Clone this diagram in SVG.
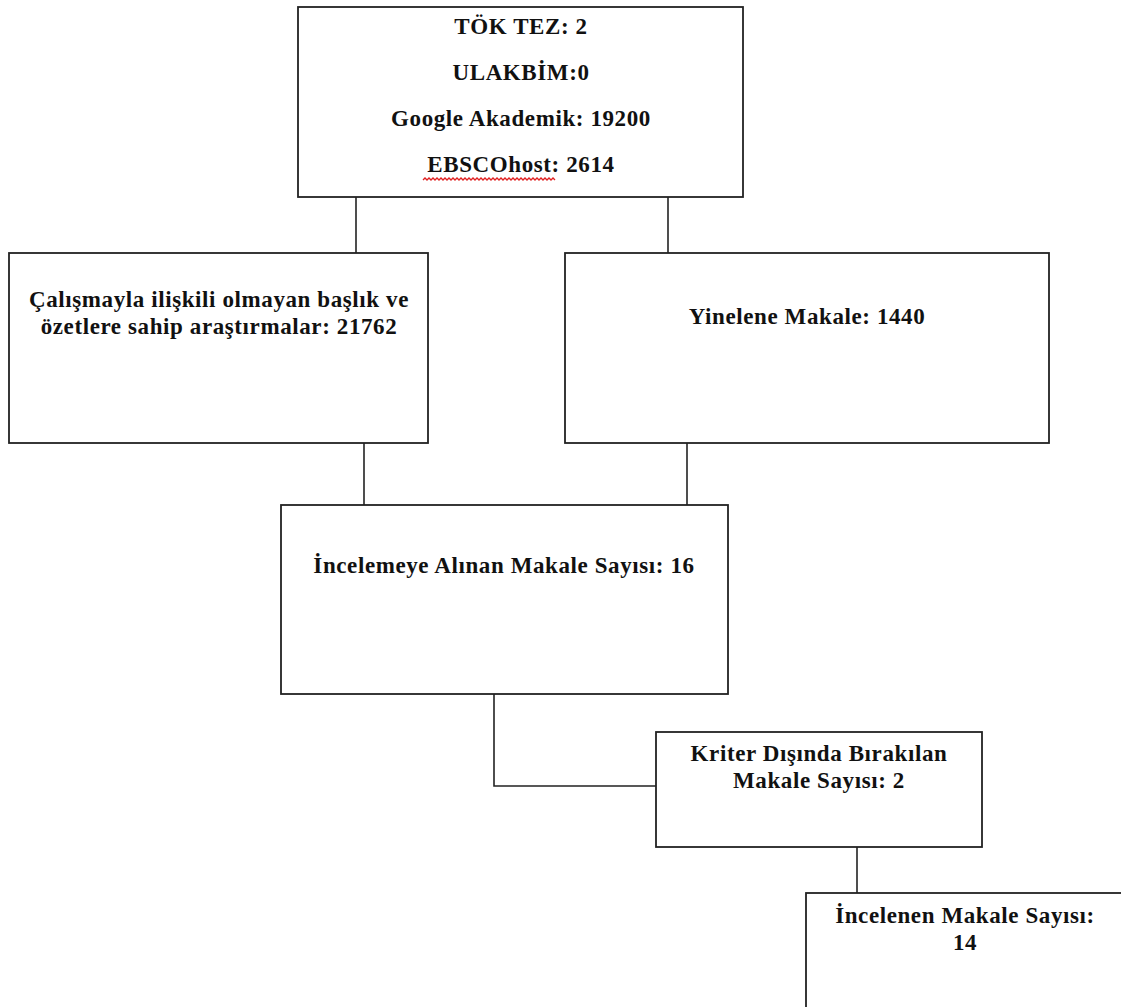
<svg xmlns="http://www.w3.org/2000/svg" width="1121" height="1007" viewBox="0 0 1121 1007">
<style>
.box{fill:#fff;stroke:#222;stroke-width:1.8}
.conn{fill:none;stroke:#222;stroke-width:1.6}
.t{font-family:"Liberation Serif","Times New Roman",serif;font-weight:bold;font-size:23px;fill:#111;text-anchor:middle;letter-spacing:0.6px}
</style>
<rect x="0" y="0" width="1121" height="1007" fill="#fff"/>
<g id="connectors">
<path class="conn" d="M356 197V253"/>
<path class="conn" d="M668 197V253"/>
<path class="conn" d="M364 443V505"/>
<path class="conn" d="M687 443V505"/>
<path class="conn" d="M494 694V786H656"/>
<path class="conn" d="M857 847V893"/>
</g>
<g id="n-sources">
<rect class="box" x="298" y="7" width="445" height="190"/>
<text class="t" x="521" y="34">TÖK TEZ: 2</text>
<text class="t" x="521" y="80">ULAKBİM:0</text>
<text class="t" x="521" y="126">Google Akademik: 19200</text>
<text class="t" x="521" y="172">EBSCOhost: 2614</text>
<path d="M423 180
l2 -2l2 2 l2 -2l2 2 l2 -2l2 2 l2 -2l2 2 l2 -2l2 2 l2 -2l2 2 l2 -2l2 2 l2 -2l2 2 l2 -2l2 2 l2 -2l2 2 l2 -2l2 2
l2 -2l2 2 l2 -2l2 2 l2 -2l2 2 l2 -2l2 2 l2 -2l2 2 l2 -2l2 2 l2 -2l2 2 l2 -2l2 2 l2 -2l2 2 l2 -2l2 2 l2 -2l2 2
l2 -2l2 2 l2 -2l2 2 l2 -2l2 2 l2 -2l2 2 l2 -2l2 2 l2 -2l2 2 l2 -2l2 2 l2 -2l2 2 l2 -2l2 2 l2 -2l2 2 l2 -2l2 2" fill="none" stroke="#e02020" stroke-width="1.3"/>
</g>
<g id="n-unrelated">
<rect class="box" x="9" y="253" width="419" height="190"/>
<text class="t" x="219" y="307">Çalışmayla ilişkili olmayan başlık ve</text>
<text class="t" x="219" y="334">özetlere sahip araştırmalar: 21762</text>
</g>
<g id="n-duplicate">
<rect class="box" x="565" y="253" width="484" height="190"/>
<text class="t" x="807" y="324">Yinelene Makale: 1440</text>
</g>
<g id="n-reviewed">
<rect class="box" x="281" y="505" width="447" height="189"/>
<text class="t" x="504" y="573">İncelemeye Alınan Makale Sayısı: 16</text>
</g>
<g id="n-excluded">
<rect class="box" x="656" y="732" width="326" height="115"/>
<text class="t" x="819" y="761">Kriter Dışında Bırakılan</text>
<text class="t" x="819" y="788">Makale Sayısı: 2</text>
</g>
<g id="n-final">
<rect class="box" x="806" y="893" width="330" height="130"/>
<text class="t" x="965" y="923">İncelenen Makale Sayısı:</text>
<text class="t" x="965" y="950">14</text>
</g>
</svg>
